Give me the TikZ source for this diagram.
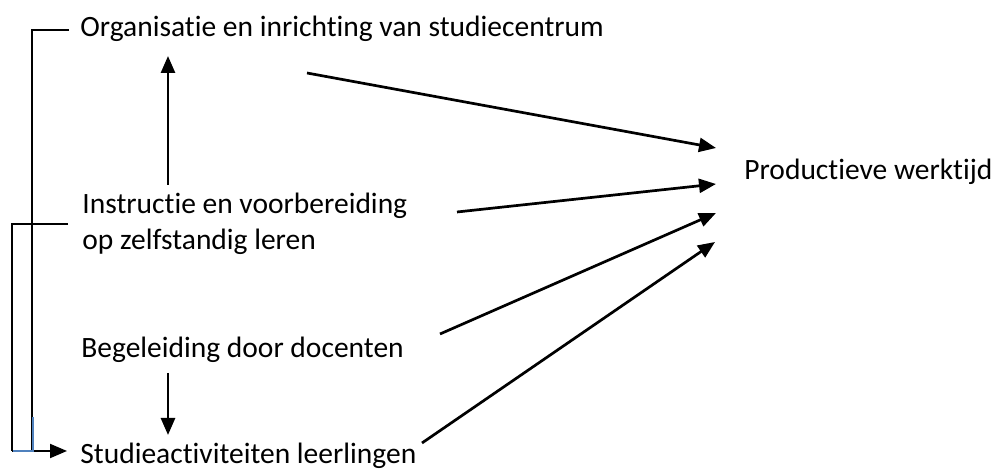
\documentclass[tikz,border=0pt]{standalone}
\usepackage{fontspec}
\setmainfont{Carlito}[Ligatures=NoCommon]
\usetikzlibrary{arrows.meta}
\definecolor{linkblue}{RGB}{79,129,189}

\begin{document}
\begin{tikzpicture}[
    x=0.5pt, y=-0.5pt,
    lbl/.style={inner sep=0pt, font=\fontsize{14.75}{18}\selectfont, align=left},
    arr/.style={-{Triangle[length=8.5pt, width=7pt]}, line width=1.35pt},
    brk/.style={line width=1pt},
]
\useasboundingbox (0,0) rectangle (993,469);

\node[lbl, anchor=base west] (org) at (80,37) {Organisatie en inrichting van studiecentrum};
\node[lbl, anchor=base west] (instr) at (82,250) {Instructie en voorbereiding\\op zelfstandig leren};
\node[lbl, anchor=base west] (beg) at (81,358) {Begeleiding door docenten};
\node[lbl, anchor=base west] (stud) at (80,464) {Studieactiviteiten leerlingen};
\node[lbl, anchor=base west] (prod) at (744,180) {Productieve werktijd};

% arrow ends
\coordinate (orgout) at (307,73);
\coordinate (instrout) at (457,212);
\coordinate (begout) at (440,334);
\coordinate (studout) at (422,443);
\coordinate (prod1) at (716,148);
\coordinate (prod2) at (716,184);
\coordinate (prod3) at (716,213);
\coordinate (prod4) at (715,242);
\coordinate (instrup) at (168,185);
\coordinate (orgin) at (168,56);
\coordinate (begdown) at (168,373);
\coordinate (studin) at (168,435);

% left brackets
\coordinate (orgleft) at (69,30);
\coordinate (instrleft) at (68,224);
\coordinate (studleft) at (67,451);
\draw[brk] (orgleft) -- (32,30) -- (32,451);
\draw[brk] (instrleft) -- (12,224) -- (12,451);
\draw[arr, line width=1pt] (12,451) -- (studleft);
\draw[brk, linkblue] (33,417) -- (33,451) -- (13,451);

\draw[arr] (instrup) -- (orgin);
\draw[arr] (begdown) -- (studin);
\draw[arr] (orgout) -- (prod1);
\draw[arr] (instrout) -- (prod2);
\draw[arr] (begout) -- (prod3);
\draw[arr] (studout) -- (prod4);
\end{tikzpicture}
\end{document}
